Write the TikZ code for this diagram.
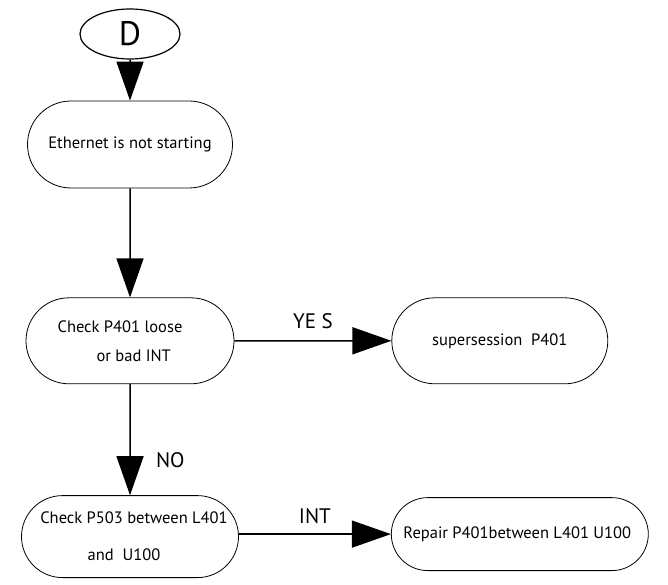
\documentclass[tikz,border=0pt]{standalone}
\usepackage{fontspec}
\setmainfont{PT Sans}
\usetikzlibrary{
    arrows.meta,
    positioning,
    shapes.geometric,
    shapes.misc,
}
\tikzstyle{arrow}=[-{Triangle[length=39pt, width=27pt]}, line width=1.5pt]
\tikzset{
    flowbox/.style={draw, rounded rectangle, line width=0.8pt, align=center,
        inner sep=2pt, font=\fontsize{16.5}{20}\selectfont},
    branchlabel/.style={font=\fontsize{21}{23}\selectfont},
}

\begin{document}
\begin{tikzpicture}
    \useasboundingbox[fill=white] (0,0) rectangle (668pt,-585pt);
    \node[draw,ellipse,line width=1.2pt,minimum width=100pt,minimum height=50pt,inner sep=0pt,
          font=\fontsize{34}{34}\selectfont] (D) at (130pt,-34pt) {D};
    \node[flowbox,below=41pt of D,minimum width=209pt,minimum height=87pt] (eth) {Ethernet is not starting};
    \node[flowbox,below=109pt of eth,minimum width=212pt,minimum height=86pt,align=left] (chkloose) {Check P401 loose\hspace*{20pt}\\[9pt]\hspace*{39pt}or bad INT};
    \node[flowbox,right=157pt of chkloose,minimum width=220pt,minimum height=86pt] (super) {supersession\ \ P401};
    \node[flowbox,below=111pt of chkloose,minimum width=221pt,minimum height=82pt] (chkbetween) {\hspace*{8pt}Check P503 between L401\\[17pt]and\ \ U100\hspace*{12pt}};
    \node[flowbox,right=152pt of chkbetween,yshift=2.5pt,minimum width=261pt,minimum height=73pt] (repair) {Repair P401between L401 U100\hspace*{5pt}};
    \draw[arrow] (D) -- (eth);
    \draw[arrow] (eth) -- (chkloose);
    \draw[arrow] (chkloose) -- node[branchlabel,above=8pt] {YE S} (super);
    \draw[arrow] (chkloose) -- node[branchlabel,right=22pt,pos=0.68] {NO} (chkbetween);
    \draw[arrow] (chkbetween.east |- repair.west) -- node[branchlabel,above=6pt] {INT} (repair.west);
\end{tikzpicture}
\end{document}
